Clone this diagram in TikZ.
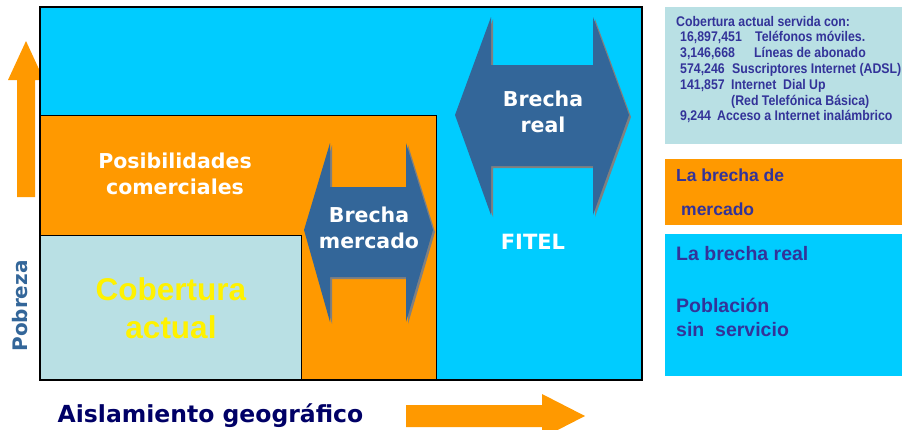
\documentclass[tikz,border=0pt]{standalone}
\usepackage{fontspec}
\setmainfont{DejaVu Sans}
\newfontfamily\arialfont{Liberation Sans}
\newfontfamily\arialnarrow[FakeStretch=0.88]{Liberation Sans}
\usetikzlibrary{shadows}

\definecolor{celeste}{HTML}{00CCFF}
\definecolor{naranja}{HTML}{FF9900}
\definecolor{celestepalido}{RGB}{185,224,228}
\definecolor{azulacero}{HTML}{336699}
\definecolor{azultexto}{HTML}{333399}
\definecolor{marino}{HTML}{000066}

\begin{document}
\begin{tikzpicture}[x=1pt,y=-1pt,
    brecha/.style={fill=azulacero, drop shadow={shadow xshift=2pt, shadow yshift=-2pt, fill=gray, opacity=1}},
    rotulo/.style={text=white, font=\bfseries\fontsize{20.5}{26}\selectfont, align=center, inner sep=0pt},
    leyenda/.style={text=azultexto, align=left, anchor=north west, inner sep=0pt}]

    \useasboundingbox (0,0) rectangle (902,429);
    \clip (0,0) rectangle (902,429);

    % flechas de los ejes
    \fill[naranja] (17,197) -- (17,80) -- (8,80) -- (26,41) -- (44,80) -- (35,80) -- (35,197) -- cycle;

    \fill[naranja] (406,405) -- (542,405) -- (542,394) -- (585,416) -- (542,438) -- (542,427) -- (406,427) -- cycle;

    % cuadro principal
    \draw[fill=celeste, line width=1.2pt] (40,7) rectangle (642,380);

    \draw[fill=naranja, line width=1pt] (40,115) rectangle (436,380);

    \draw[fill=celestepalido, line width=1pt] (40,235) rectangle (301,380);

    \draw[line width=1.2pt] (40,7) rectangle (642,380);

    % brechas
    \path[brecha] (330,143) -- (330,187) -- (406,187) -- (406,143) -- (433,230) -- (406,322) -- (406,277) -- (330,277) -- (330,322) -- (304,230) -- cycle;

    \path[brecha] (491,17) -- (491,65) -- (593,65) -- (593,17) -- (629,115) -- (593,215) -- (593,166) -- (491,166) -- (491,215) -- (455,115) -- cycle;

    \node[rotulo] (posib) at (175,174) {Posibilidades\\comerciales};
    \node[rotulo] (brechamerc) at (369,228) {Brecha\\mercado};
    \node[rotulo] (brechareal) at (543,112) {Brecha\\real};
    \node[rotulo, font=\bfseries\fontsize{21}{26}\selectfont] (fitel) at (533,242) {FITEL};
    \node[text=yellow, font=\arialfont\bfseries\fontsize{31.5}{38}\selectfont, align=center, inner sep=0pt] (cobertura) at (171,308) {Cobertura\\actual};

    \node[text=azulacero, font=\bfseries\fontsize{20}{24}\selectfont, rotate=90, inner sep=0pt] (pobreza) at (20,306) {Pobreza};
    \node[text=marino, font=\bfseries\fontsize{23.5}{28}\selectfont, anchor=base, inner sep=0pt] (aislamiento) at (210.5,422) {Aislamiento geográfico};

    % leyenda
    \fill[celestepalido] (665,7) rectangle (902,144);
    \fill[naranja] (665,159) rectangle (902,225);
    \fill[celeste] (665,234) rectangle (902,376);

    \node[leyenda, font=\arialnarrow\bfseries\fontsize{14}{15.8}\selectfont] (servida) at (676,15.8) {Cobertura actual servida con:\\
        \hspace*{4pt}\makebox[75pt][l]{16,897,451}Teléfonos móviles.\\
        \hspace*{4pt}\makebox[74pt][l]{3,146,668}Líneas de abonado\\
        \hspace*{4pt}\makebox[52pt][l]{574,246}Suscriptores Internet (ADSL)\\
        \hspace*{4pt}\makebox[51pt][l]{141,857}Internet\ \ Dial Up\\
        \hspace*{55pt}(Red Telefónica Básica)\\
        \hspace*{4pt}\makebox[37pt][l]{9,244}Acceso a Internet inalámbrico};

    \node[leyenda, font=\arialfont\bfseries\fontsize{17.5}{33.3}\selectfont] (brechamercado) at (676,168.9) {La brecha de\\\hspace*{5pt}mercado};

    \node[leyenda, font=\arialfont\bfseries\fontsize{19.5}{24.3}\selectfont] (brecharealtxt) at (676,245.8) {La brecha real};
    \node[leyenda, font=\arialfont\bfseries\fontsize{19.5}{24.3}\selectfont] (poblacion) at (676,297.5) {Población\\sin\ \ servicio};

\end{tikzpicture}
\end{document}
